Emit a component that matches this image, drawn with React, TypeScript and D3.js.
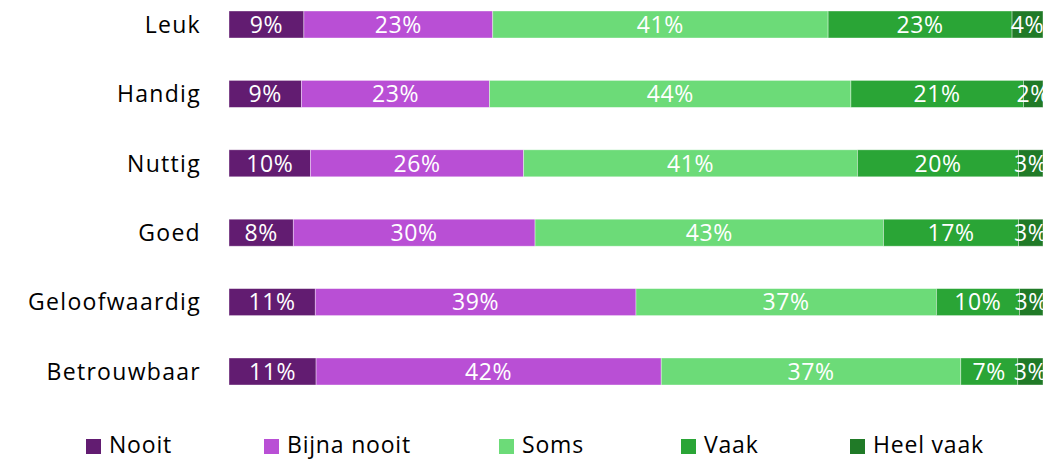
import React, { useEffect, useRef } from "react";
import * as d3 from "d3";

const categories = ["Leuk", "Handig", "Nuttig", "Goed", "Geloofwaardig", "Betrouwbaar"];
const seriesNames = ["Nooit", "Bijna nooit", "Soms", "Vaak", "Heel vaak"];
const nooit = [9.2, 8.9, 10.0, 7.9, 10.6, 10.7];
const bijnaNooit = [23.2, 23.1, 26.2, 29.7, 39.4, 42.4];
const soms = [41.2, 44.4, 41.0, 42.8, 36.9, 36.8];
const vaak = [22.6, 21.2, 19.8, 16.6, 10.2, 7.0];
const heelVaak = [3.8, 2.4, 3.0, 3.0, 2.9, 3.1];
const colors = ["#621c71", "#b94fd5", "#6cdb78", "#2aa536", "#207a27"];

const W = 1061, H = 459;
const left = 229, right = 1043;
const font = "'Open Sans', 'Noto Sans', sans-serif";

export default function App() {
  const ref = useRef<SVGSVGElement>(null);

  useEffect(() => {
    const svg = d3.select(ref.current);
    svg.selectAll("*").remove();

    const values = [nooit, bijnaNooit, soms, vaak, heelVaak];
    const rows = categories.map((c, i) => {
      const r: any = { cat: c };
      seriesNames.forEach((s, k) => (r[s] = values[k][i]));
      return r;
    });
    const stacked = d3.stack().keys(seriesNames)(rows);

    const x = d3.scaleLinear().domain([0, 100]).range([left, right]);
    const y = d3.scaleBand().domain(categories).range([11, 385]).paddingInner(0.611).paddingOuter(0);

    svg.append("defs").append("clipPath").attr("id", "plotclip")
      .append("rect").attr("x", left).attr("y", 0).attr("width", right - left).attr("height", 400);

    const plot = svg.append("g").attr("clip-path", "url(#plotclip)");

    stacked.forEach((layer, k) => {
      const g = plot.append("g");
      g.selectAll("rect")
        .data(layer)
        .enter()
        .append("rect")
        .attr("x", d => x(d[0]))
        .attr("y", (d: any) => y(d.data.cat)!)
        .attr("width", d => x(d[1]) - x(d[0]))
        .attr("height", y.bandwidth())
        .attr("fill", colors[k])
        .attr("stroke", "rgba(255,255,255,0.5)")
        .attr("stroke-width", 0.75);

      g.selectAll("text")
        .data(layer)
        .enter()
        .append("text")
        .attr("x", d => (x(d[0]) + x(d[1])) / 2)
        .attr("y", (d: any) => y(d.data.cat)! + y.bandwidth() / 2)
        .attr("dy", "0.36em")
        .attr("text-anchor", "middle")
        .attr("fill", "#fff")
        .style("font-family", font)
        .style("font-size", "23px")
        .style("letter-spacing", "0.6px")
        .text(d => Math.round(d[1] - d[0]) + "%");
    });

    // category labels
    svg.append("g")
      .selectAll("text")
      .data(categories)
      .enter()
      .append("text")
      .attr("x", 201)
      .attr("y", d => y(d)! + y.bandwidth() / 2)
      .attr("dy", "0.36em")
      .attr("text-anchor", "end")
      .attr("fill", "#000")
      .style("font-family", font)
      .style("font-size", "23px")
      .style("letter-spacing", "1.3px")
      .text(d => d);

    // legend
    const legendX = [86, 264, 499, 681, 850];
    const lg = svg.append("g");
    seriesNames.forEach((s, k) => {
      lg.append("rect")
        .attr("x", legendX[k])
        .attr("y", 439)
        .attr("width", 15)
        .attr("height", 15)
        .attr("fill", colors[k]);
      lg.append("text")
        .attr("x", legendX[k] + 23)
        .attr("y", 453)
        .attr("fill", "#000")
        .style("font-family", font)
        .style("font-size", "23px")
        .style("letter-spacing", "0.8px")
        .text(s);
    });
  }, []);

  return (
    <svg
      ref={ref}
      width={W}
      height={H}
      style={{ position: "absolute", left: 0, top: 0, background: "#fff" }}
    />
  );
}
